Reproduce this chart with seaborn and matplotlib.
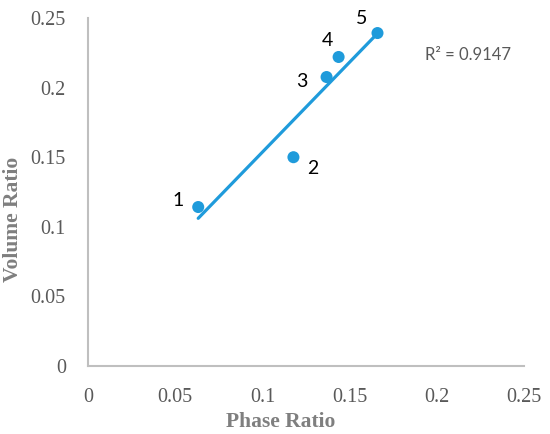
import matplotlib
matplotlib.use("Agg")
import matplotlib.pyplot as plt
import pandas as pd
import seaborn as sns

# data
phase_ratio = [0.0632, 0.1178, 0.1368, 0.1437, 0.166]
volume_ratio = [0.1142, 0.150, 0.2076, 0.222, 0.2392]
point_labels = ["1", "2", "3", "4", "5"]
label_offsets = [(-20, 7), (19, -11), (-25, -4), (-11, 16), (-16, 15)]  # pixels
ticks = [0, 0.05, 0.1, 0.15, 0.2, 0.25]
tick_labels = ["0", "0.05", "0.1", "0.15", "0.2", "0.25"]

blue = "#1F9BDB"
grey_axis = "#BFBFBF"
grey_text = "#595959"

df = pd.DataFrame({"phase": phase_ratio, "volume": volume_ratio})

sns.set_style("white")
fig = plt.figure(figsize=(5.5, 4.34), dpi=100)
ax = fig.add_axes([0.16, 0.1567, 0.7927, 0.8018])

# linear trendline over the data range + markers
sns.regplot(data=df, x="phase", y="volume", ax=ax, ci=None, truncate=True,
            scatter=False, line_kws={"color": blue, "lw": 2.3})
sns.scatterplot(data=df, x="phase", y="volume", ax=ax, color=blue, s=75,
                edgecolor="none", zorder=3)

for x, y, lab, (dx, dy) in zip(phase_ratio, volume_ratio, point_labels, label_offsets):
    ax.annotate(lab, (x, y), xytext=(dx, dy), textcoords="offset pixels",
                ha="center", va="center", fontsize=14, family="Lato", color="black")

ax.text(0.872, 0.894, "R² = 0.9147", transform=ax.transAxes, ha="center", va="center",
        fontsize=12, family="Lato", color=grey_text)

ax.set_xlim(0, 0.25)
ax.set_ylim(0, 0.25)
ax.set_xticks(ticks)
ax.set_xticklabels(tick_labels)
ax.set_yticks(ticks)
ax.set_yticklabels(tick_labels)
ax.tick_params(axis="x", length=0, pad=16, labelsize=14.5, labelcolor=grey_text)
ax.tick_params(axis="y", length=0, pad=16, labelsize=14.5, labelcolor=grey_text)
for t in ax.get_xticklabels() + ax.get_yticklabels():
    t.set_family("Liberation Serif")

ax.set_xlabel("Phase Ratio", family="Liberation Serif", fontweight="bold",
              fontsize=15.5, color="#7F7F7F", va="center")
ax.set_ylabel("Volume Ratio", family="Liberation Serif", fontweight="bold",
              fontsize=15.5, color="#7F7F7F", va="center")
ax.xaxis.set_label_coords(0.443, -0.161)
ax.yaxis.set_label_coords(-0.172, 0.42)

for side in ["top", "right"]:
    ax.spines[side].set_visible(False)
for side in ["left", "bottom"]:
    ax.spines[side].set_color(grey_axis)
    ax.spines[side].set_linewidth(1.5)

fig.savefig("out.png", dpi=100)
